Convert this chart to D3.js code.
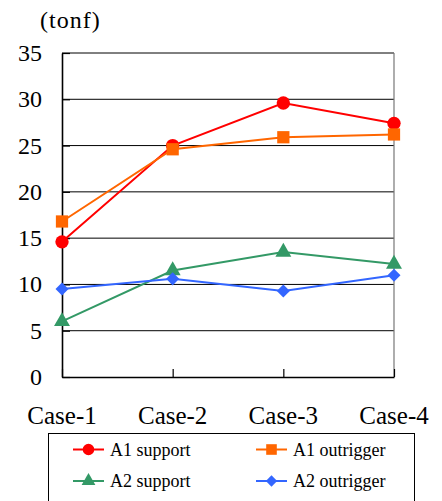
<!DOCTYPE html>
<html>
<head>
<meta charset="utf-8">
<script src="https://cdn.jsdelivr.net/npm/d3@7"></script>
<style>
  html, body { margin: 0; padding: 0; background: #fff; }
</style>
</head>
<body>
<svg id="chart" width="442" height="501"></svg>
<script>
// chart data
const categories = ["Case-1", "Case-2", "Case-3", "Case-4"];
const a1Support = [14.6, 25.0, 29.6, 27.4];
const a1Outrigger = [16.8, 24.6, 25.9, 26.2];
const a2Support = [6.0, 11.5, 13.5, 12.2];
const a2Outrigger = [9.5, 10.6, 9.3, 11.0];
const yTicks = [0, 5, 10, 15, 20, 25, 30, 35];
const unitLabel = "(tonf)";

const series = [
  { name: "A1 support", values: a1Support, color: "#ff0000", symbol: d3.symbolCircle, size: 140, rot: 0 },
  { name: "A1 outrigger", values: a1Outrigger, color: "#ff6600", symbol: d3.symbolSquare, size: 150, rot: 0 },
  { name: "A2 support", values: a2Support, color: "#339966", symbol: d3.symbolTriangle, size: 110, rot: 0 },
  { name: "A2 outrigger", values: a2Outrigger, color: "#3366ff", symbol: d3.symbolSquare, size: 85, rot: 45 }
];

const serif = "'Liberation Serif'";
const svg = d3.select("#chart");
const plotLeft = 62, plotRight = 394, plotTop = 53, plotBottom = 377;

const x = d3.scalePoint().domain(categories).range([plotLeft, plotRight]);
const y = d3.scaleLinear().domain([0, 35]).range([plotBottom, plotTop]);

// grid lines
svg.append("g")
  .selectAll("line")
  .data(yTicks.filter(d => d > 0))
  .join("line")
  .attr("x1", plotLeft).attr("x2", plotRight)
  .attr("y1", d => y(d)).attr("y2", d => y(d))
  .attr("stroke", "#000").attr("stroke-width", 1);

// right border
svg.append("line")
  .attr("x1", plotRight).attr("x2", plotRight)
  .attr("y1", plotTop).attr("y2", plotBottom)
  .attr("stroke", "#777").attr("stroke-width", 1.2);

// y axis (ticks inside)
const yAxis = svg.append("g")
  .attr("transform", `translate(${plotLeft},0)`)
  .call(d3.axisRight(y).tickValues(yTicks).tickSize(8).tickSizeOuter(0).tickFormat(""));
yAxis.select(".domain").attr("stroke", "#000").attr("stroke-width", 1.6);
yAxis.selectAll(".tick line").attr("stroke", "#000").attr("stroke-width", 1.2);

svg.append("g")
  .selectAll("text")
  .data(yTicks)
  .join("text")
  .attr("x", 42)
  .attr("y", d => y(d) + 8)
  .attr("text-anchor", "end")
  .attr("font-family", serif)
  .attr("font-size", 24)
  .text(d => d);

// x axis (ticks inside, pointing up)
const xAxis = svg.append("g")
  .attr("transform", `translate(0,${plotBottom})`)
  .call(d3.axisTop(x).tickSize(8).tickSizeOuter(0).tickFormat(""));
xAxis.select(".domain").attr("stroke", "#000").attr("stroke-width", 1.6);
xAxis.selectAll(".tick line").attr("stroke", "#000").attr("stroke-width", 1.2);

svg.append("g")
  .selectAll("text")
  .data(categories)
  .join("text")
  .attr("x", d => x(d))
  .attr("y", 424)
  .attr("text-anchor", "middle")
  .attr("font-family", serif)
  .attr("font-size", 25)
  .text(d => d);

// unit label
svg.append("text")
  .attr("x", 40).attr("y", 28)
  .attr("font-family", serif)
  .attr("font-size", 24)
  .attr("letter-spacing", 1)
  .text(unitLabel);

// lines and markers
const line = d3.line().x((d, i) => x(categories[i])).y(d => y(d));
series.forEach(s => {
  svg.append("path")
    .attr("d", line(s.values))
    .attr("fill", "none")
    .attr("stroke", s.color)
    .attr("stroke-width", 2);
  svg.append("g")
    .selectAll("path")
    .data(s.values)
    .join("path")
    .attr("transform", (d, i) => `translate(${x(categories[i])},${y(d)}) rotate(${s.rot})`)
    .attr("d", d3.symbol().type(s.symbol).size(s.size))
    .attr("fill", s.color);
});

// legend
const lg = svg.append("g");
lg.append("rect")
  .attr("x", 48.5).attr("y", 433.5)
  .attr("width", 366).attr("height", 70)
  .attr("fill", "#fff").attr("stroke", "#000").attr("stroke-width", 1);

const legendPos = [[73, 449.5], [256, 449.5], [73, 481], [256, 481]];
series.forEach((s, i) => {
  const [lx, ly] = legendPos[i];
  lg.append("line")
    .attr("x1", lx).attr("x2", lx + 31)
    .attr("y1", ly).attr("y2", ly)
    .attr("stroke", s.color).attr("stroke-width", 2);
  lg.append("path")
    .attr("transform", `translate(${lx + 15.5},${ly}) rotate(${s.rot})`)
    .attr("d", d3.symbol().type(s.symbol).size(s.size * 0.75))
    .attr("fill", s.color);
  lg.append("text")
    .attr("x", lx + 37).attr("y", ly + 6)
    .attr("font-family", serif)
    .attr("font-size", 18)
    .text(s.name);
});
</script>
</body>
</html>
